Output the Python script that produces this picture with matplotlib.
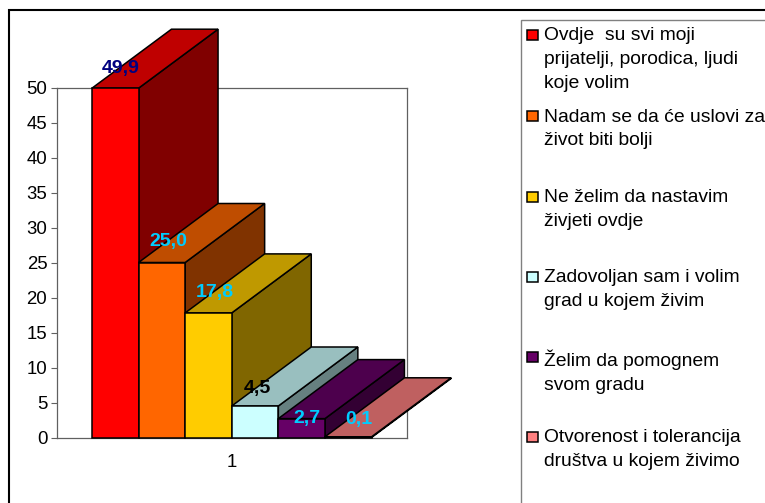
import matplotlib
matplotlib.use("Agg")
import matplotlib.pyplot as plt
from matplotlib.colors import to_rgb
from matplotlib.patches import Polygon, Rectangle

W, H = 765, 503
plt.rcParams["font.family"] = ["Liberation Sans", "DejaVu Sans"]

# ---------- data ----------
categories = [
    "Ovdje  su svi moji\nprijatelji, porodica, ljudi\nkoje volim",
    "Nadam se da će uslovi za\nživot biti bolji",
    "Ne želim da nastavim\nživjeti ovdje",
    "Zadovoljan sam i volim\ngrad u kojem živim",
    "Želim da pomognem\nsvom gradu",
    "Otvorenost i tolerancija\ndruštva u kojem živimo",
]
values = [49.9, 25.0, 17.8, 4.5, 2.7, 0.1]
value_labels = ["49,9", "25,0", "17,8", "4,5", "2,7", "0,1"]
colors = ["#FF0000", "#FF6600", "#FFCC00", "#CCFFFF", "#660066", "#FF8080"]
label_colors = ["#000080", "#00CCFF", "#00CCFF", "#000000", "#00CCFF", "#00CCFF"]
y_ticks = [0, 5, 10, 15, 20, 25, 30, 35, 40, 45, 50]

# pixel offsets of the value labels from the bar top centre
label_dx = [5, 6, 6, 2, 5, 11]
label_dy = [20, 21, 20, 17, 0, 17]

BAR_W = 0.8 / 6
DEPTH_X = 79.5 / 349.5   # depth of the 3d effect, data units
DEPTH_Y = 59 / 7
FS = 13.4
FS_LEG = 13.9


def px(x0, y0, x1, y1):
    """pixel box (origin top left) -> figure fraction [l, b, w, h]."""
    return [x0 / W, 1 - y1 / H, (x1 - x0) / W, (y1 - y0) / H]


def shade(color, f):
    return tuple(c * f for c in to_rgb(color))


fig = plt.figure(figsize=(W / 100, H / 100), dpi=100, facecolor="white")

# outer frame and legend box run off the picture on the right and bottom
fig.add_artist(Rectangle((9 / W, -0.1), 1.1, 1.1 - 9.5 / H, transform=fig.transFigure,
                         fc="white", ec="black", lw=1.5, zorder=-2))
fig.add_artist(Rectangle((521 / W, -0.1), 1.1, 1.1 - 19.5 / H, transform=fig.transFigure,
                         fc="white", ec="#808080", lw=1, zorder=-1))

ax = fig.add_axes(px(57, 87.5, 406.5, 437.5))
ax.patch.set_alpha(0)
ax.set_xlim(0.5, 1.5)
ax.set_ylim(0, 50)
ax.set_yticks(y_ticks)
ax.set_xticks([1])
ax.set_xticklabels(["1"])
ax.tick_params(axis="y", length=4.5, width=0.8, color="#606060", labelsize=FS, pad=2.5)
ax.tick_params(axis="x", length=0, labelsize=FS, pad=12)
for s in ax.spines.values():
    s.set_color("#606060")
    s.set_linewidth(0.9)

for i, (v, c) in enumerate(zip(values, colors)):
    x0 = 0.6 + i * BAR_W
    x1 = x0 + BAR_W
    z = 3 + i
    style = dict(ec="black", lw=1.1, joinstyle="miter", clip_on=False, zorder=z)
    ax.add_patch(Polygon([(x1, 0), (x1 + DEPTH_X, DEPTH_Y), (x1 + DEPTH_X, v + DEPTH_Y), (x1, v)],
                         fc=shade(c, 0.5), **style))
    ax.add_patch(Polygon([(x0, v), (x1, v), (x1 + DEPTH_X, v + DEPTH_Y), (x0 + DEPTH_X, v + DEPTH_Y)],
                         fc=shade(c, 0.75), **style))
    ax.bar(x0, v, BAR_W, align="edge", color=c, edgecolor="black", linewidth=1.1,
           clip_on=False, zorder=z)

for i, v in enumerate(values):
    ax.annotate(value_labels[i], (0.6 + (i + 0.5) * BAR_W, v),
                xytext=(label_dx[i] * 0.72, label_dy[i] * 0.72), textcoords="offset points",
                ha="center", va="center", fontsize=14, fontweight="bold",
                color=label_colors[i], zorder=20, annotation_clip=False)

# legend, drawn by hand because the entries have uneven spacing
legend_y = [35, 116, 197, 277, 357, 437]
for y, c, name in zip(legend_y, colors, categories):
    fig.add_artist(Rectangle((527 / W, 1 - (y + 5) / H), 10.5 / W, 10.5 / H,
                             transform=fig.transFigure, fc=c, ec="black", lw=1.1))
    fig.text(544 / W, 1 - (y - 7.5) / H, name, fontsize=FS_LEG, va="top", ha="left",
             linespacing=1.5, color="black")

fig.savefig("out.png", dpi=100)
